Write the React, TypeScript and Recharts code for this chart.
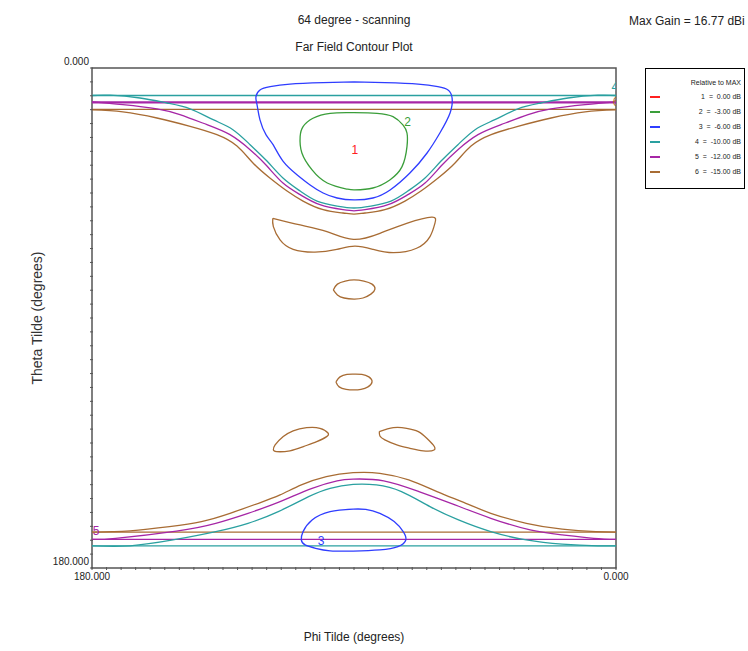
import { ScatterChart, Scatter, XAxis, YAxis, ReferenceArea, Legend } from 'recharts';

type Pt = [number, number]; // [phi, theta] in degrees

const levelNames = ['1', '2', '3', '4', '5', '6'];
const levelValues = ['0.00', '-3.00', '-6.00', '-10.00', '-12.00', '-15.00'];
const levelColors = ['#ff2020', '#3a9e3a', '#2f3dff', '#2aa0a0', '#a626a6', '#a86c34'];

const axisTicks = [0, 5, 10, 15, 20, 25, 30, 35, 40, 45, 50, 55, 60, 65, 70, 75, 80, 85, 90,
    95, 100, 105, 110, 115, 120, 125, 130, 135, 140, 145, 150, 155, 160, 165, 170, 175, 180];
const labelledTicks = [0, 180];

// level 2 : -3 dB
const green2Main: Pt[] = [
    [90, 16.1], [98.2, 16.3], [104.1, 18.1], [107.5, 21.1], [108.5, 24.7], [107.9, 30.6],
    [104.4, 36.7], [99.2, 41.4], [92.4, 43.6], [89.7, 43.9], [83.5, 43.2], [77.7, 40.3],
    [73.5, 35.5], [71.8, 28.3], [71.8, 23.4], [73.2, 20.5], [76.6, 17.5], [82.1, 16.3], [90, 16.1],
];

// level 3 : -6 dB
const blue3Top: Pt[] = [
    [90, 5.0], [100.6, 5.3], [112, 5.8], [118.8, 6.7], [122.3, 7.9], [123.7, 10.4], [123.3, 13.3],
    [122.3, 18.7], [120.2, 24.1], [117.8, 27.6], [114.4, 33.5], [109.6, 38.4], [105.2, 42.0],
    [100.6, 45.0], [95.8, 46.8], [90, 47.5], [83.5, 46.8], [77.6, 43.9], [70.8, 37.8], [64.9, 30.6],
    [60.5, 23.4], [57.0, 16.2], [56.3, 10.8], [57.7, 7.9], [61.2, 6.7], [68, 5.8], [79.4, 5.3], [90, 5.0],
];
const blue3Bottom: Pt[] = [
    [90.3, 158.8], [98.2, 159.7], [104.4, 162.7], [107.5, 166.9], [108.1, 169.9], [106.8, 171.7],
    [103.2, 172.9], [98.2, 173.8], [90.3, 173.9], [81.1, 173.5], [74.9, 172.3], [72.2, 169.9],
    [73.1, 166.9], [76.2, 163.3], [81.1, 160.3], [86.0, 158.9], [90.3, 158.8],
];

// level 4 : -10 dB
const teal4TopLine: Pt[] = [[180, 9.9], [0, 9.9]];
const teal4TopBell: Pt[] = [
    [180, 9.9], [173.8, 9.8], [163.5, 10.8], [154.2, 12.6], [146.3, 14.7], [138.4, 18.6],
    [131.6, 22.2], [125.7, 27.6], [119.9, 33.5], [114.4, 39.6], [108.5, 44.3], [102.7, 47.9],
    [95.8, 49.7], [90, 50.4], [84.2, 49.7], [77.3, 47.9], [71.5, 44.3], [65.6, 39.6], [60.1, 33.5],
    [54.3, 27.6], [48.4, 22.2], [41.6, 18.6], [33.7, 14.7], [25.8, 12.6], [16.5, 10.8], [6.2, 9.8], [0, 9.9],
];
const teal4BottomBell: Pt[] = [
    [180, 172.0], [166.9, 172.0], [152.2, 169.9], [137.5, 166.9], [126.4, 163.9], [116.0, 159.7],
    [105.6, 154.3], [98.2, 151.3], [90.3, 149.9], [82.3, 150.1], [73.7, 152.5], [63.9, 157.9],
    [54.1, 162.7], [43.0, 166.9], [30.8, 169.9], [18.5, 171.4], [6.2, 172.0], [0, 172.0],
];
const teal4BottomLine: Pt[] = [[180, 172.0], [0, 172.0]];

// level 5 : -12 dB
const purple5TopLine: Pt[] = [[180, 12.4], [0, 12.4]];
const purple5TopBell: Pt[] = [
    [180, 12.2], [169.4, 13.2], [157.7, 14.7], [149.8, 16.8], [140.5, 20.4], [132.6, 24.0],
    [125.7, 29.4], [119.9, 35.3], [114.4, 41.4], [108.5, 45.6], [101.7, 49.2], [93.8, 51.0],
    [90, 51.4], [86.2, 51.0], [78.3, 49.2], [71.5, 45.6], [65.6, 41.4], [60.1, 35.3], [54.3, 29.4],
    [47.4, 24.0], [39.5, 20.4], [30.2, 16.8], [22.3, 14.7], [10.6, 13.2], [0, 12.2],
];
const purple5BottomBell: Pt[] = [
    [180, 169.7], [171.9, 169.3], [151.0, 166.7], [137.5, 163.9], [126.4, 160.3], [115.4, 156.1],
    [104.4, 151.3], [95.8, 148.6], [90.3, 148.0], [79.8, 148.6], [67.7, 152.5], [55.3, 157.3],
    [43.0, 162.1], [29.5, 166.3], [18.5, 168.1], [7.6, 169.3], [0, 169.7],
];
const purple5BottomLine: Pt[] = [[180, 169.7], [0, 169.7]];

// level 6 : -15 dB
const brown6TopLine: Pt[] = [[180, 14.9], [0, 14.9]];
const brown6TopBell: Pt[] = [
    [180, 15.1], [169.4, 15.8], [157.7, 18.0], [146.3, 21.0], [137.1, 24.0], [130.2, 28.1],
    [124.7, 34.2], [118.9, 39.6], [113.0, 44.3], [107.5, 47.9], [100.6, 51.0], [93.8, 52.2],
    [90, 52.6], [86.2, 52.2], [79.4, 51.0], [72.5, 47.9], [67.0, 44.3], [61.1, 39.6], [55.3, 34.2],
    [49.8, 28.1], [42.9, 24.0], [33.7, 21.0], [22.3, 18.0], [10.6, 15.8], [0, 15.1],
];
const brown6Bowtie: Pt[] = [
    [117.9, 54.1], [108.5, 56.5], [99.3, 58.9], [90.2, 61.7], [81.1, 59.5], [71.9, 55.9],
    [63.3, 53.7], [62.2, 55.9], [63.9, 60.7], [68.5, 64.9], [76.5, 66.5], [83.4, 65.3],
    [89.7, 64.1], [95.9, 65.3], [103.4, 66.3], [110.9, 65.3], [115.4, 61.9], [117.7, 57.1], [117.9, 54.1],
];
const brown6EllipseUpper: Pt[] = [
    [97.1, 79.9], [95.7, 77.8], [93.0, 76.7], [90.0, 76.3], [86.6, 76.7], [83.8, 77.8],
    [82.8, 79.6], [84.2, 81.4], [86.9, 82.8], [90.0, 83.2], [93.4, 82.8], [95.7, 81.7], [97.1, 79.9],
];
const brown6EllipseLower: Pt[] = [
    [96.2, 113.0], [94.8, 111.2], [92.4, 110.3], [90.0, 110.2], [87.3, 110.3], [84.9, 111.2],
    [83.8, 113.0], [85.2, 114.8], [87.6, 115.7], [90.0, 115.9], [92.7, 115.7], [95.1, 114.8], [96.2, 113.0],
];
const brown6LobeLeft: Pt[] = [
    [117.7, 137.5], [117.1, 135.7], [114.3, 132.7], [110.9, 130.6], [106.3, 129.5], [101.7, 129.7],
    [99.0, 131.3], [99.4, 132.7], [102.8, 134.5], [107.4, 136.3], [112.0, 137.8], [116.6, 138.1], [117.7, 137.5],
];
const brown6LobeRight: Pt[] = [
    [81.3, 130.9], [76.5, 129.5], [71.9, 129.7], [67.9, 130.9], [65.0, 133.3], [62.8, 135.7],
    [62.5, 137.5], [66.2, 137.8], [70.8, 136.9], [75.3, 135.7], [79.4, 133.9], [81.1, 132.5], [81.3, 130.9],
];
const brown6BottomBell: Pt[] = [
    [180, 167.1], [173.1, 166.9], [166.9, 166.6], [153.4, 165.1], [142.4, 163.3], [132.6, 160.3],
    [122.8, 156.7], [115.4, 153.7], [108.1, 150.1], [99.5, 147.1], [90.3, 145.7], [81.1, 145.9],
    [71.2, 148.3], [61.5, 152.5], [51.6, 156.7], [43.0, 160.3], [30.8, 163.9], [18.5, 166.0],
    [6.9, 166.9], [0, 167.1],
];
const brown6BottomLine: Pt[] = [[180, 167.1], [0, 167.1]];

const contourLabels = [
    { phi: 89.7, theta: 29.5, text: '1', level: 0 },
    { phi: 71.6, theta: 19.5, text: '2', level: 1 },
    { phi: 101.3, theta: 170.3, text: '3', level: 2 },
    { phi: 0.4, theta: 6.8, text: '4', level: 3 },
    { phi: 178.6, theta: 166.7, text: '5', level: 4 },
    { phi: 0, theta: 12.3, text: '6', level: 5 },
];

const contours: { level: number; points: Pt[]; width?: number }[] = [
    { level: 5, points: brown6TopLine },
    { level: 5, points: brown6TopBell },
    { level: 5, points: brown6Bowtie },
    { level: 5, points: brown6EllipseUpper },
    { level: 5, points: brown6EllipseLower },
    { level: 5, points: brown6LobeLeft },
    { level: 5, points: brown6LobeRight },
    { level: 5, points: brown6BottomBell },
    { level: 5, points: brown6BottomLine },
    { level: 4, points: purple5TopLine, width: 2.2 },
    { level: 4, points: purple5TopBell },
    { level: 4, points: purple5BottomBell },
    { level: 4, points: purple5BottomLine },
    { level: 3, points: teal4TopLine },
    { level: 3, points: teal4TopBell },
    { level: 3, points: teal4BottomBell },
    { level: 3, points: teal4BottomLine },
    { level: 2, points: blue3Top },
    { level: 2, points: blue3Bottom },
    { level: 1, points: green2Main },
];

const FONT = '"Liberation Sans", Arial, sans-serif';
const frameColor = '#555';

const noDot = () => <g />;

const BottomTick = (props: any) => {
    const { x, y, payload } = props;
    return (
        <g>
            <line x1={x} y1={y} x2={x} y2={y - 3} stroke={frameColor} />
            {labelledTicks.includes(payload.value) && (
                <text x={x} y={y + 10} textAnchor="middle" fontSize={10} fontFamily={FONT} fill="#222">
                    {payload.value.toFixed(3)}
                </text>
            )}
        </g>
    );
};

const LeftTick = (props: any) => {
    const { x, y, payload } = props;
    return (
        <g>
            <line x1={x} y1={y} x2={x + 3} y2={y} stroke={frameColor} />
            {labelledTicks.includes(payload.value) && (
                <text x={x - 1} y={y - 3} textAnchor="end" fontSize={10} fontFamily={FONT} fill="#222">
                    {payload.value.toFixed(3)}
                </text>
            )}
        </g>
    );
};

const YTitle = (props: any) => {
    const { viewBox } = props;
    const cx = viewBox.x + 37;
    const cy = viewBox.y + viewBox.height / 2;
    return (
        <text x={cx} y={cy} transform={`rotate(-90 ${cx} ${cy})`} textAnchor="middle"
            dominantBaseline="central" fontSize={14} fontFamily={FONT} fill="#333">
            Theta Tilde (degrees)
        </text>
    );
};

const ContourLabel = (props: any) => {
    const { cx, cy, payload } = props;
    return (
        <text x={cx} y={cy} textAnchor="middle" dominantBaseline="central" fontSize={12}
            fontFamily={FONT} fill={levelColors[payload.level]}>
            {payload.text}
        </text>
    );
};

const LegendBox = () => (
    <div style={{ position: 'relative', width: 100, height: 121, border: '1px solid #000', boxSizing: 'border-box', background: '#fff', fontFamily: FONT, fontSize: 7, color: '#222' }}>
        <div style={{ position: 'absolute', right: 3, top: 9, lineHeight: '10px' }}>Relative to MAX</div>
        {levelNames.map((name, i) => (
            <div key={name} style={{ position: 'absolute', left: 0, right: 3, top: 23 + i * 15, height: 10, lineHeight: '10px' }}>
                <span style={{ position: 'absolute', left: 4, top: 4, width: 10, height: 2, background: levelColors[i] }} />
                <span style={{ position: 'absolute', right: 0, whiteSpace: 'pre' }}>{`${name}  =  ${levelValues[i]} dB`}</span>
            </div>
        ))}
    </div>
);

export default function App() {
    return (
        <div style={{ position: 'absolute', left: 0, top: 0, width: 748, height: 651, background: '#fff', fontFamily: FONT }}>
            <div style={{ position: 'absolute', left: 254, width: 200, top: 13, textAlign: 'center', fontSize: 12, lineHeight: '14px', color: '#222' }}>
                64 degree - scanning
            </div>
            <div style={{ position: 'absolute', left: 254, width: 200, top: 40, textAlign: 'center', fontSize: 12, lineHeight: '14px', color: '#222' }}>
                Far Field Contour Plot
            </div>
            <div style={{ position: 'absolute', left: 629, top: 14, fontSize: 12, lineHeight: '14px', color: '#222', whiteSpace: 'nowrap' }}>
                Max Gain = 16.77 dBi
            </div>
            <ScatterChart width={748} height={651} margin={{ top: 68, right: 132, bottom: 0, left: 0 }}>
                <XAxis
                    type="number"
                    dataKey="phi"
                    domain={[0, 180]}
                    reversed
                    allowDataOverflow
                    ticks={axisTicks}
                    interval={0}
                    height={83}
                    tickSize={0}
                    tickLine={false}
                    axisLine={false}
                    tick={<BottomTick />}
                    label={{ value: 'Phi Tilde (degrees)', position: 'insideBottom', offset: 10, fontSize: 12, fill: '#222', fontFamily: FONT }}
                />
                <YAxis
                    type="number"
                    dataKey="theta"
                    domain={[0, 180]}
                    reversed
                    allowDataOverflow
                    ticks={axisTicks}
                    interval={0}
                    width={92}
                    tickSize={0}
                    tickLine={false}
                    axisLine={false}
                    tick={<LeftTick />}
                    label={{ content: <YTitle /> }}
                />
                <ReferenceArea x1={0} x2={180} y1={0} y2={180} fill="none" stroke={frameColor} strokeWidth={1.5} />
                <Legend
                    layout="vertical"
                    align="center"
                    verticalAlign="middle"
                    wrapperStyle={{ left: 645, top: 68, width: 100, height: 121 }}
                    content={() => <LegendBox />}
                />
                {contours.map((c, i) => (
                    <Scatter
                        key={i}
                        data={c.points.map(([phi, theta]) => ({ phi, theta }))}
                        fill={levelColors[c.level]}
                        line={{ stroke: levelColors[c.level], strokeWidth: c.width ?? 1.3 }}
                        lineJointType="natural"
                        shape={noDot}
                        legendType="none"
                        isAnimationActive={false}
                    />
                ))}
                <Scatter data={contourLabels} shape={<ContourLabel />} legendType="none" isAnimationActive={false} />
            </ScatterChart>
        </div>
    );
}
